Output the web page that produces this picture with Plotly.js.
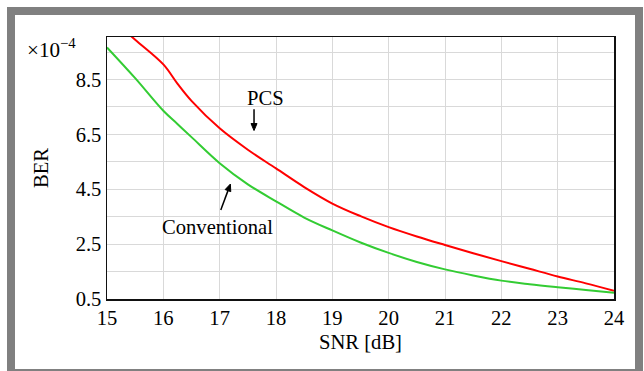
<!DOCTYPE html>
<html>
<head>
<meta charset="utf-8">
<script src="https://cdn.plot.ly/plotly-3.0.1.min.js"></script>
<style>
  html, body { margin: 0; padding: 0; background: #ffffff; }
  #frame { position: absolute; left: 7px; top: 7px; width: 636px; height: 370px;
           box-sizing: border-box; border: 8px solid #808080; background: #ffffff; }
  #chart { position: absolute; left: 0; top: 0; width: 644px; height: 371px; }
</style>
</head>
<body>
<div id="frame"></div>
<div id="chart"></div>
<script>
// SNR [dB]
const snr = [15, 15.5, 16, 16.25, 16.5, 17, 17.5, 18, 18.5, 19, 19.5, 20, 20.5, 21, 21.5, 22, 22.5, 23, 23.5, 24];
// BER (x10^-4), PCS
const berPCS = [10.85, 9.95, 9.05, 8.35, 7.72, 6.72, 5.94, 5.26, 4.58, 3.98, 3.52, 3.12, 2.78, 2.47, 2.17, 1.88, 1.60, 1.32, 1.07, 0.80];
// BER (x10^-4), Conventional
const berConv = [9.67, 8.55, 7.36, 6.88, 6.40, 5.45, 4.68, 4.06, 3.47, 3.00, 2.56, 2.18, 1.85, 1.58, 1.36, 1.17, 1.04, 0.93, 0.83, 0.73];

const xTicks = [15, 16, 17, 18, 19, 20, 21, 22, 23, 24];
const yTicks = [0.5, 2.5, 4.5, 6.5, 8.5];

// annotation labels and arrows (tail -> tip), data units
const labels = [
  { text: 'PCS', x: 17.82, y: 7.83 },
  { text: 'Conventional', x: 16.96, y: 3.12 }
];
const arrows = [
  { x0: 17.61, y0: 7.42, x1: 17.61, y1: 6.64 },
  { x0: 17.02, y0: 3.74, x1: 17.19, y1: 4.69 }
];

const font = "'Liberation Serif', 'Times New Roman', serif";
const FS = 20.6;

const W = 644, H = 371;
const M = { l: 107, r: 30, t: 37, b: 72 };
const xRange = [15, 24], yRange = [0.5, 10.05];
const xpp = (xRange[1] - xRange[0]) / (W - M.l - M.r);
const ypp = (yRange[1] - yRange[0]) / (H - M.t - M.b);

const shapes = [];
arrows.forEach(a => {
  const dxp = (a.x1 - a.x0) / xpp, dyp = (a.y1 - a.y0) / ypp;
  const len = Math.hypot(dxp, dyp);
  const ux = dxp / len, uy = dyp / len;
  const hl = 7, hw = 3;
  const bx = a.x1 - ux * hl * xpp, by = a.y1 - uy * hl * ypp;
  const px = -uy, py = ux;
  shapes.push({ type: 'line', xref: 'x', yref: 'y', x0: a.x0, y0: a.y0, x1: bx, y1: by,
                line: { color: '#000', width: 1.5 } });
  const p1x = bx + px * hw * xpp, p1y = by + py * hw * ypp;
  const p2x = bx - px * hw * xpp, p2y = by - py * hw * ypp;
  shapes.push({ type: 'path', xref: 'x', yref: 'y',
                path: `M ${a.x1} ${a.y1} L ${p1x} ${p1y} L ${p2x} ${p2y} Z`,
                fillcolor: '#000', line: { color: '#000', width: 1 } });
});

const traces = [
  { x: snr, y: berPCS, type: 'scatter', mode: 'lines', name: 'PCS',
    line: { color: '#ff0000', width: 2, shape: 'spline', smoothing: 1 }, hoverinfo: 'skip' },
  { x: snr, y: berConv, type: 'scatter', mode: 'lines', name: 'Conventional',
    line: { color: '#33cc33', width: 2, shape: 'spline', smoothing: 1 }, hoverinfo: 'skip' }
];

const layout = {
  width: W, height: H,
  margin: { l: M.l, r: M.r, t: M.t, b: M.b, pad: 0 },
  paper_bgcolor: 'rgba(0,0,0,0)',
  plot_bgcolor: 'rgba(0,0,0,0)',
  showlegend: false,
  font: { family: font, size: FS, color: '#000' },
  xaxis: {
    range: xRange, tickvals: xTicks, ticktext: xTicks.map(String),
    showgrid: true, gridcolor: '#d9d9d9', gridwidth: 1,
    zeroline: false, showline: true, linecolor: '#111', linewidth: 1.5, mirror: true,
    ticks: '', tickfont: { family: font, size: FS, color: '#000' },
    title: { text: 'SNR [dB]', font: { family: font, size: FS, color: '#000' }, standoff: 6 }
  },
  yaxis: {
    range: yRange, tickvals: yTicks, ticktext: yTicks.map(v => v.toFixed(1)),
    showgrid: true, gridcolor: '#d9d9d9', gridwidth: 1,
    minor: { tick0: 0.5, dtick: 1, showgrid: true, gridcolor: '#d9d9d9', gridwidth: 1, ticks: '' },
    zeroline: false, showline: true, linecolor: '#111', linewidth: 1.5, mirror: true,
    ticks: '', tickfont: { family: font, size: FS, color: '#000' },
    title: { text: 'BER', font: { family: font, size: FS, color: '#000' }, standoff: 21 }
  },
  shapes: shapes,
  annotations: [
    { xref: 'paper', yref: 'paper', x: -0.161, y: 0.955, xanchor: 'left', yanchor: 'middle',
      text: '×10<sup>−4</sup>', showarrow: false, font: { family: font, size: FS + 0.5, color: '#000' } }
  ].concat(labels.map(l => ({ x: l.x, y: l.y, xref: 'x', yref: 'y', text: l.text, showarrow: false,
      font: { family: font, size: FS, color: '#000' } })))
};

Plotly.newPlot('chart', traces, layout, { staticPlot: true, displayModeBar: false });
</script>
</body>
</html>
